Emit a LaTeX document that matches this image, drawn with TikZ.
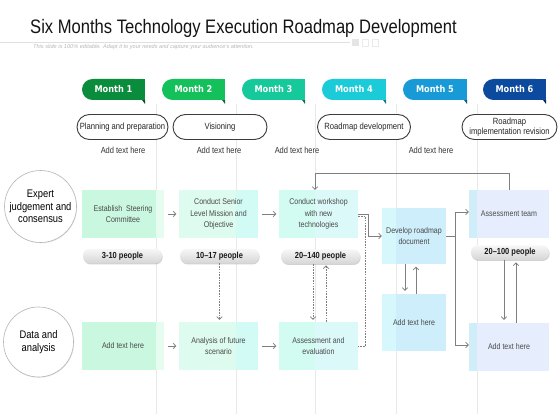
\documentclass[tikz,border=0pt]{standalone}
\usepackage{fontspec}
\setmainfont{Liberation Sans}[FakeStretch=0.85]
\newfontfamily\plainsans{Liberation Sans}
\newfontfamily\monthfont{DejaVu Sans}[FakeStretch=0.88]
\usetikzlibrary{arrows.meta,shadows,calc}

\definecolor{sepgray}{HTML}{E8E8E8}
\definecolor{arrgray}{HTML}{7F7F7F}
\definecolor{boxtext}{HTML}{4A4A4A}
\definecolor{phaseborder}{HTML}{3C3C3C}
\definecolor{circborder}{HTML}{B5B5B5}
\definecolor{pilltop}{HTML}{F7F7F7}
\definecolor{pillbot}{HTML}{D6D6D6}
\definecolor{mA}{HTML}{0A8C3D}\definecolor{mAd}{HTML}{055426}
\definecolor{mB}{HTML}{14C05A}\definecolor{mBd}{HTML}{0A6E33}
\definecolor{mC}{HTML}{16C99A}\definecolor{mCd}{HTML}{0B7358}
\definecolor{mD}{HTML}{1BCBD8}\definecolor{mDd}{HTML}{0E7A82}
\definecolor{mE}{HTML}{179AD6}\definecolor{mEd}{HTML}{0C5A7E}
\definecolor{mF}{HTML}{0C4A9E}\definecolor{mFd}{HTML}{06295C}
\definecolor{gA}{HTML}{C9F7E0}\definecolor{gAs}{HTML}{E6FCF1}
\definecolor{gB}{HTML}{DDFBEE}\definecolor{gBs}{HTML}{D2FBF5}
\definecolor{gC}{HTML}{D2FBF1}\definecolor{gCs}{HTML}{DCF9F9}
\definecolor{gD}{HTML}{CDEEFA}\definecolor{gDs}{HTML}{D6F8FC}
\definecolor{gE}{HTML}{E6EEFD}\definecolor{gEs}{HTML}{CFEEFA}

\newcommand\mtab[6]{%
  \fill[#4] (#2-3,100) -- (#2,100) -- (#2,104) -- cycle;
  \fill[#3, rounded corners=10.5pt] (#1,79) rectangle (#2,100);
  \fill[#3] ({(#1+#2)/2},79) rectangle (#2,100);
  \node[monthlbl] (#5) at ({(#1+#2)/2},89.5) {#6};
}

\begin{document}
\begin{tikzpicture}[x=1pt,y=-1pt,
  monthlbl/.style={text=white, font=\monthfont\bfseries\fontsize{9.3}{10}\selectfont, inner sep=0pt},
  box/.style={rectangle, inner sep=0pt, align=center, text=boxtext,
    font=\fontsize{8.3}{11.5}\selectfont, minimum height=48pt},
  rstrip/.style 2 args={path picture={\fill[#1] ([xshift=-#2]path picture bounding box.north east) rectangle (path picture bounding box.south east);}},
  lstrip/.style 2 args={path picture={\fill[#1] (path picture bounding box.north west) rectangle ([xshift=#2]path picture bounding box.south west);}},
  pill/.style={rectangle, rounded corners=7pt, minimum height=14.5pt, inner sep=0pt,
    top color=pilltop, bottom color=pillbot,
    drop shadow={shadow xshift=0.6pt, shadow yshift=-1.2pt, opacity=0.35},
    font=\bfseries\fontsize{8.8}{10}\selectfont, text=black!90},
  phase/.style={rectangle, rounded corners=12.5pt, draw=phaseborder, line width=0.9pt,
    fill=white, minimum height=25pt, inner sep=1pt, align=center,
    font=\fontsize{9}{10}\selectfont, text=black!85},
  addtxt/.style={font=\fontsize{8.8}{10}\selectfont, text=black!80, inner sep=0pt},
  circ/.style={circle, draw=circborder, line width=0.6pt, fill=white, inner sep=0pt,
    align=center, font=\fontsize{11}{12.5}\selectfont, text=black,
    drop shadow={shadow xshift=0.6pt, shadow yshift=-0.8pt, opacity=0.18}},
  arr/.style={draw=arrgray, line width=0.8pt, -{Straight Barb[length=2.6pt,width=5.5pt]}},
  darr/.style={arr, dash pattern=on 1.6pt off 1.1pt},
  dline/.style={draw=arrgray, line width=0.8pt, dash pattern=on 1.6pt off 1.1pt},
  gap/.style={shorten <=4pt, shorten >=2.5pt}
]
\useasboundingbox[fill=white] (0,0) rectangle (560,420);

% title area
\node[anchor=base west, inner sep=0pt, font=\fontsize{19.5}{22}\selectfont, text=black!92] (title) at (30,34)
  {Six Months Technology Execution Roadmap Development};
\draw[black!12, line width=0.6pt] (0,42.5) -- (350,42.5);
\fill[black!10] (352,39.5) rectangle (358.5,46);
\draw[black!8, line width=0.5pt] (362,39.5) rectangle (368.5,46) (372,39.5) rectangle (378.5,46);
\node[anchor=base west, inner sep=0pt, font=\plainsans\itshape\fontsize{5.6}{6}\selectfont, text=black!28] (subtitle) at (33,49)
  {This slide is 100\% editable. Adapt it to your needs and capture your audience's attention.};

% column separators
\foreach \x in {156,236,315,396,477} \draw[sepgray, line width=0.8pt] (\x,104) -- (\x,414);

% month tabs
\mtab{82}{145}{mA}{mAd}{m1}{Month 1}
\mtab{162}{225}{mB}{mBd}{m2}{Month 2}
\mtab{242}{305}{mC}{mCd}{m3}{Month 3}
\mtab{322}{386}{mD}{mDd}{m4}{Month 4}
\mtab{403}{467}{mE}{mEd}{m5}{Month 5}
\mtab{483}{546}{mF}{mFd}{m6}{Month 6}

% phases
\node[phase, minimum width=91pt] (ph1) at (122.5,127) {Planning and preparation};
\node[phase, minimum width=94pt] (ph2) at (220,127) {Visioning};
\node[phase, minimum width=93pt] (ph3) at (364,127) {Roadmap development};
\node[phase, minimum width=95pt] (ph4) at (509.5,127) {Roadmap\\implementation revision};

\node[addtxt] (at1) at (123,150.5) {Add text here};
\node[addtxt] (at2) at (219,150.5) {Add text here};
\node[addtxt] (at3) at (297,150.5) {Add text here};
\node[addtxt] (at4) at (431,150.5) {Add text here};

% row circles
\node[circ, minimum size=72pt] (c1) at (40.5,206.5) {Expert\\judgement and\\consensus};
\node[circ, minimum size=70pt] (c2) at (38.5,342) {Data and\\analysis};

% top row boxes
\node[box, fill=gA, rstrip={gAs}{8pt}, minimum width=82pt] (est) at (123,214) {Establish\ \ Steering\\Committee};
\node[box, fill=gB, rstrip={gBs}{22pt}, minimum width=79pt] (sen) at (218.5,214) {Conduct Senior\\Level Mission and\\Objective};
\node[box, fill=gC, rstrip={gCs}{43pt}, minimum width=79pt] (work) at (318.5,214) {Conduct workshop\\with new\\technologies};
\node[box, fill=gD, lstrip={gDs}{14pt}, minimum width=64pt, minimum height=56pt] (dev) at (414,236) {Develop roadmap\\document};
\node[box, fill=gE, lstrip={gEs}{8pt}, minimum width=80pt] (ateam) at (509,214) {Assessment team};

% pills
\node[pill, minimum width=79pt] (p1) at (122.5,256) {3-10 people};
\node[pill, minimum width=79pt] (p2) at (219.5,256) {10--17 people};
\node[pill, minimum width=79pt] (p3) at (320.5,256.5) {20--140 people};
\node[pill, minimum width=78pt] (p4) at (510,252.5) {20--100 people};

% bottom row boxes
\node[box, fill=gA, rstrip={gAs}{8pt}, minimum width=82pt] (addL) at (123,346) {Add text here};
\node[box, fill=gB, rstrip={gBs}{22pt}, minimum width=79pt] (ana) at (218.5,346) {Analysis\ of\ future\\scenario};
\node[box, fill=gC, rstrip={gCs}{43pt}, minimum width=79pt] (aeval) at (318.5,346) {Assessment and\\evaluation};
\node[box, fill=gD, lstrip={gDs}{14pt}, minimum width=64pt, minimum height=57pt] (add5) at (414,322.5) {Add text here};
\node[box, fill=gE, lstrip={gEs}{8pt}, minimum width=80pt] (add6) at (509,347) {Add text here};

% connectors, top row
\draw[arr, gap] (est) -- (sen);
\draw[arr, gap] (sen) -- (work);
\draw[arr] (work.east) -- ++(10,0) |- (dev.west);
\draw[arr] (dev.east) -- ++(9,0) coordinate (br) |- ([yshift=2pt]ateam.west);
\draw[arr] (br) |- ([yshift=2pt]add6.west);
\draw[arr] (ateam.north) -- ++(0,-16) -| ([xshift=-3.5pt]work.north);

% connectors, bottom row
\draw[arr, gap] (addL) -- (ana);
\draw[arr, gap] (ana) -- (aeval);

% vertical links
\draw[darr, shorten >=2pt] (p2.south) -- (p2.south |- ana.north);
\draw[darr, shorten >=2pt] ([xshift=-7.5pt]p3.south) -- ([xshift=-7.5pt]p3.south |- aeval.north);
\draw[darr, shorten >=1.5pt] ([xshift=5.5pt]p3.south |- aeval.north) -- ([xshift=5.5pt]p3.south);
\draw[dline] ([yshift=-2pt]work.east) -| ([xshift=7pt]aeval.east) -- (aeval.east);
\draw[arr, shorten >=3pt] ([xshift=-9pt]dev.south) -- ([xshift=-9pt]dev.south |- add5.north);
\draw[arr, shorten >=2.5pt] ([xshift=2pt]dev.south |- add5.north) -- ([xshift=2pt]dev.south);
\draw[arr, shorten >=3pt] ([xshift=-6pt]p4.south) -- ([xshift=-6pt]p4.south |- add6.north);
\draw[arr, shorten >=2.5pt] ([xshift=6pt]p4.south |- add6.north) -- ([xshift=6pt]p4.south);
\end{tikzpicture}
\end{document}
